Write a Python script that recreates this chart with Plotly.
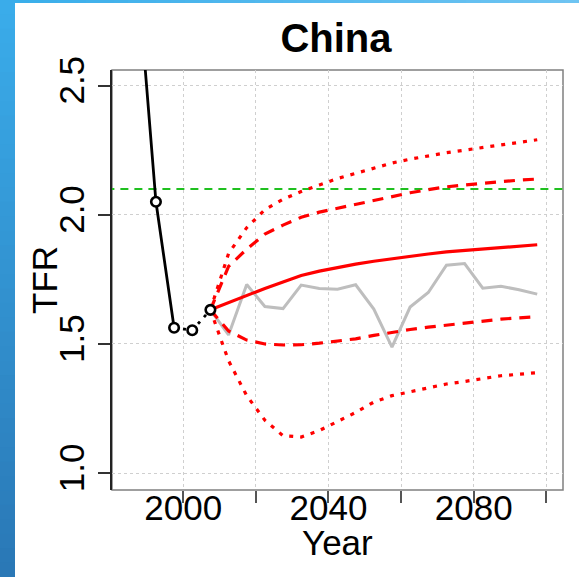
import plotly.graph_objects as go

W, H = 579, 577
ML, MR, MT, MB = 112, 16, 70, 87
FONT = "Liberation Sans, Arial, sans-serif"

# Observed TFR, 5-year period midpoints
obs_years = [1987.5, 1992.5, 1997.5]
obs_tfr = [2.92, 2.05, 1.563]
# Most recent estimates (dotted)
est_years = [1997.5, 2002.5, 2007.5]
est_tfr = [1.563, 1.553, 1.632]
point_years = [1987.5, 1992.5, 1997.5, 2002.5, 2007.5]
point_tfr = [2.92, 2.05, 1.563, 1.553, 1.632]

# Projection period
proj_years = [2007.5, 2012.5, 2017.5, 2022.5, 2027.5, 2032.5, 2037.5, 2042.5,
              2047.5, 2052.5, 2057.5, 2062.5, 2067.5, 2072.5, 2077.5, 2082.5,
              2087.5, 2092.5, 2097.5]
median = [1.632, 1.66, 1.69, 1.715, 1.74, 1.765, 1.782, 1.797, 1.809, 1.82,
          1.83, 1.839, 1.848, 1.856, 1.862, 1.868, 1.874, 1.879, 1.884]
pi80_high = [1.632, 1.80, 1.867, 1.925, 1.96, 1.99, 2.01, 2.025, 2.04, 2.055,
             2.072, 2.085, 2.097, 2.108, 2.115, 2.122, 2.129, 2.134, 2.138]
pi80_low = [1.632, 1.55, 1.515, 1.50, 1.496, 1.497, 1.503, 1.51, 1.52, 1.533,
            1.546, 1.556, 1.565, 1.573, 1.58, 1.588, 1.596, 1.601, 1.605]
pi95_high = [1.632, 1.85, 1.95, 2.02, 2.06, 2.09, 2.115, 2.14, 2.16, 2.18,
             2.20, 2.215, 2.228, 2.24, 2.25, 2.26, 2.27, 2.28, 2.29]
pi95_low = [1.632, 1.435, 1.30, 1.205, 1.145, 1.14, 1.165, 1.20, 1.235, 1.275,
            1.30, 1.315, 1.33, 1.345, 1.355, 1.365, 1.377, 1.383, 1.389]
trajectory = [1.632, 1.535, 1.73, 1.645, 1.637, 1.728, 1.715, 1.712, 1.729,
              1.635, 1.488, 1.643, 1.699, 1.805, 1.811, 1.716, 1.723, 1.71, 1.693]

replacement_level = 2.1

x_range = [1980.4, 2104.6]
x_ticks = [2000, 2020, 2040, 2060, 2080, 2100]
x_labels = ["2000", "", "2040", "", "2080", ""]
y_ticks = [1.0, 1.5, 2.0, 2.5]
y_labels = ["1.0", "1.5", "2.0", "2.5"]

RED = "#ff0000"

fig = go.Figure()

# replacement-level reference line
fig.add_trace(go.Scatter(x=[1975, 2110], y=[replacement_level] * 2, mode="lines",
                         line=dict(color="#1fc01f", width=2, dash="8px,6px"),
                         hoverinfo="skip"))
# one simulated trajectory
fig.add_trace(go.Scatter(x=proj_years, y=trajectory, mode="lines",
                         line=dict(color="#bebebe", width=3)))
# probability intervals
for vals, dash in [(pi95_high, "4px,7px"), (pi95_low, "4px,7px"),
                   (pi80_high, "11px,8px"), (pi80_low, "11px,8px")]:
    fig.add_trace(go.Scatter(x=proj_years, y=vals, mode="lines",
                             line=dict(color=RED, width=3.2, dash=dash)))
# median
fig.add_trace(go.Scatter(x=proj_years, y=median, mode="lines",
                         line=dict(color=RED, width=3.2)))
# observed data
fig.add_trace(go.Scatter(x=obs_years, y=obs_tfr, mode="lines",
                         line=dict(color="black", width=2.8)))
fig.add_trace(go.Scatter(x=est_years, y=est_tfr, mode="lines",
                         line=dict(color="black", width=2.8, dash="3px,6px")))
fig.add_trace(go.Scatter(x=point_years, y=point_tfr, mode="markers",
                         marker=dict(symbol="circle", size=9.5, color="white",
                                     line=dict(color="black", width=2.6))))
# carrier for the tick-mark axis
fig.add_trace(go.Scatter(x=[x_ticks[0]], y=[None], xaxis="x2", mode="lines",
                         hoverinfo="skip"))

# plot frame
fig.add_shape(type="rect", xref="paper", yref="paper", x0=0, x1=1, y0=0, y1=1,
              line=dict(color="#808080", width=1.5), layer="below")

# blue slide border (left strip and top strip, shaded)
pw = W - ML - MR
ph = H - MT - MB


def px_x(p):
    return (p - ML) / pw


def px_y(p):
    return (H - MB - p) / ph


def mix(c1, c2, t):
    return "rgb(%d,%d,%d)" % tuple(round(a + (b - a) * t) for a, b in zip(c1, c2))


n = 40
for i in range(n):
    y0 = H * i / n
    y1 = H * (i + 1) / n + 1.5
    fig.add_shape(type="rect", xref="paper", yref="paper",
                  x0=px_x(0), x1=px_x(15), y0=px_y(y1), y1=px_y(y0),
                  fillcolor=mix((58, 172, 234), (42, 120, 182), i / (n - 1)),
                  line=dict(width=0), layer="above")
for i in range(n):
    x0 = 15 + (W - 15) * i / n
    x1 = 15 + (W - 15) * (i + 1) / n + 1.5
    fig.add_shape(type="rect", xref="paper", yref="paper",
                  x0=px_x(x0), x1=px_x(x1), y0=px_y(3), y1=px_y(0),
                  fillcolor=mix((58, 174, 234), (110, 196, 242), i / (n - 1)),
                  line=dict(width=0), layer="above")

# axis titles
fig.add_annotation(text="Year", xref="paper", yref="paper", x=0.5,
                   y=px_y(542), xanchor="center", yanchor="middle",
                   showarrow=False, font=dict(family=FONT, size=35, color="black"))
fig.add_annotation(text="TFR", xref="paper", yref="paper", x=px_x(44),
                   y=0.5, xanchor="center", yanchor="middle", textangle=-90,
                   showarrow=False, font=dict(family=FONT, size=35, color="black"))

fig.update_layout(
    width=W, height=H,
    margin=dict(l=ML, r=MR, t=MT, b=MB, pad=0),
    paper_bgcolor="white", plot_bgcolor="white",
    showlegend=False,
    font=dict(family=FONT, color="black", size=35),
    title=dict(text="<b>China</b>", x=336 / W, xanchor="center",
               y=1 - 38 / H, yanchor="middle", yref="container",
               font=dict(family=FONT, size=40, color="black")),
    xaxis=dict(range=x_range, tickvals=x_ticks, ticktext=x_labels,
               showgrid=True, gridcolor="#cfcfcf", griddash="dot", gridwidth=1,
               zeroline=False, showline=False, ticks="", ticklabelstandoff=-6,
               tickfont=dict(family=FONT, size=35, color="black")),
    xaxis2=dict(range=x_range, tickvals=x_ticks, overlaying="x", side="bottom",
                anchor="y", showgrid=False, zeroline=False, showline=False,
                showticklabels=False, ticks="outside", ticklen=12, tickwidth=1.5,
                tickcolor="#555555"),
    yaxis=dict(range=[0.935, 2.56], tickvals=y_ticks, ticktext=y_labels,
               tickangle=-90,
               showgrid=True, gridcolor="#cfcfcf", griddash="dot", gridwidth=1,
               zeroline=False, showline=True, linecolor="#222222", linewidth=1.5,
               ticks="outside", ticklen=12, tickwidth=1.5, tickcolor="#333333",
               tickfont=dict(family=FONT, size=35, color="black")),
)

fig.write_html("out.html")
